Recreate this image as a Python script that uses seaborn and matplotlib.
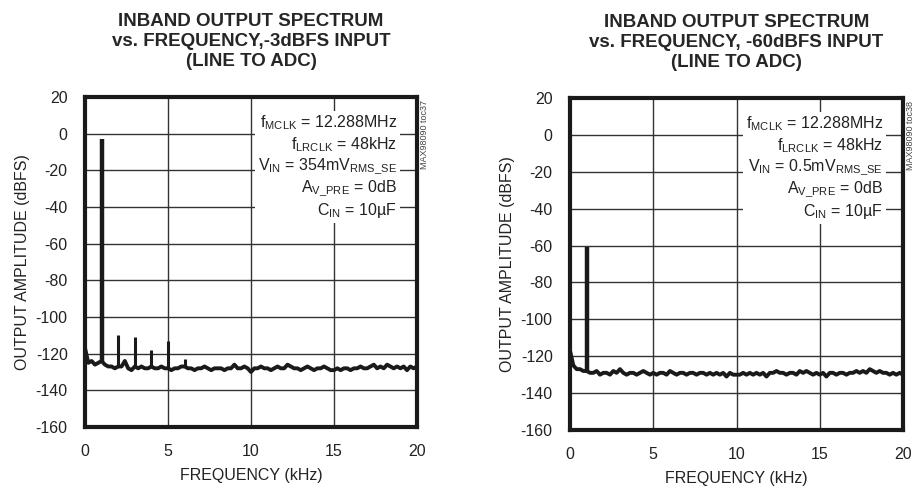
import numpy as np
import pandas as pd
import matplotlib
matplotlib.use("Agg")
import matplotlib.pyplot as plt
import seaborn as sns

# frequency grid of the noise floor (kHz), read every 0.2 kHz
freq = [round(0.2 * i, 1) for i in range(101)]

# -3dBFS input: noise floor (dBFS)
floor_a = [-117, -125, -124, -126, -125, -124, -126, -127, -127, -128,
           -127, -127, -124, -128, -129, -127, -128, -127, -128, -128,
           -127, -128, -128, -127, -128, -128, -129, -128, -128, -127,
           -127, -128, -128, -129, -128, -128, -127, -128, -129, -128,
           -128, -128, -129, -128, -128, -126, -128, -128, -127, -128,
           -130, -128, -128, -127, -128, -128, -129, -128, -127, -128,
           -128, -126, -127, -128, -128, -129, -128, -127, -128, -129,
           -128, -128, -127, -128, -129, -129, -128, -129, -128, -128,
           -129, -128, -128, -127, -128, -128, -127, -126, -128, -127,
           -128, -126, -127, -128, -127, -128, -127, -129, -127, -128,
           -127]
# -3dBFS input: fundamental and harmonics
spike_f_a = [1, 2, 3, 4, 5, 6]
spike_db_a = [-3, -110, -111, -118, -113, -123]

# -60dBFS input: noise floor (dBFS)
floor_b = [-117, -125, -127, -127, -128, -128, -129, -129, -128, -130,
           -129, -129, -130, -128, -129, -127, -129, -130, -129, -129,
           -130, -129, -128, -129, -130, -129, -130, -129, -129, -130,
           -128, -129, -130, -129, -129, -130, -129, -129, -130, -129,
           -129, -130, -129, -130, -129, -130, -129, -131, -129, -130,
           -130, -130, -129, -130, -129, -130, -129, -130, -129, -131,
           -129, -129, -128, -129, -129, -130, -129, -129, -130, -128,
           -129, -128, -129, -130, -129, -130, -129, -131, -129, -129,
           -130, -129, -129, -130, -129, -129, -128, -129, -128, -129,
           -127, -128, -129, -128, -129, -129, -130, -129, -130, -129,
           -130]
spike_f_b = [1]
spike_db_b = [-61]

titles = ["INBAND OUTPUT SPECTRUM\nvs. FREQUENCY,-3dBFS INPUT\n(LINE TO ADC)",
          "INBAND OUTPUT SPECTRUM\nvs. FREQUENCY, -60dBFS INPUT\n(LINE TO ADC)"]
vin = ["354m", "0.5m"]
tags = ["MAX98090 toc37", "MAX98090 toc38"]

sns.set_style("white")
plt.rcParams['font.family'] = ['Liberation Sans', 'DejaVu Sans']
plt.rcParams['mathtext.fontset'] = 'custom'
plt.rcParams['mathtext.rm'] = 'Liberation Sans'
plt.rcParams['mathtext.it'] = 'Liberation Sans'
plt.rcParams['axes.unicode_minus'] = False

fig = plt.figure(figsize=(9.16, 4.9), dpi=100)
ax_a = fig.add_axes([0.0928, 0.1286, 0.3624, 0.6735])
ax_b = fig.add_axes([0.6223, 0.1224, 0.3635, 0.6776])

panels = [(ax_a, floor_a, spike_f_a, spike_db_a),
          (ax_b, floor_b, spike_f_b, spike_db_b)]

for i, (ax, floor, sf, sdb) in enumerate(panels):
    df = pd.DataFrame({'freq': freq, 'db': floor})
    sns.lineplot(data=df, x='freq', y='db', ax=ax, color='#1a1a1a', lw=2.8)
    base = [floor[freq.index(float(f))] for f in sf]
    widths = [3.2] + [2.2] * (len(sf) - 1)
    ax.vlines(sf, base, sdb, colors='#1a1a1a', lw=widths)

    ax.set_xlim(0, 20)
    ax.set_ylim(-160, 20)
    ax.set_xticks([0, 5, 10, 15, 20])
    ax.set_yticks(range(-160, 21, 20))
    ax.grid(True, color='#333333', lw=1.0)
    ax.tick_params(axis='y', length=0, labelsize=11.5, colors='#222222', pad=12.5)
    ax.tick_params(axis='x', length=0, labelsize=11.5, colors='#222222', pad=12)
    for s in ax.spines.values():
        s.set_linewidth(3)
        s.set_color('#1a1a1a')
    ax.set_xlabel('FREQUENCY (kHz)', fontsize=11.5, color='#222222', labelpad=7)
    ax.set_ylabel('OUTPUT AMPLITUDE (dBFS)', fontsize=11.5, color='#222222', labelpad=4)
    ax.set_title(titles[i], fontsize=13.5, fontweight='bold', linespacing=1.25, pad=22)

    note = ('f$_{\\mathrm{MCLK}}$ = 12.288MHz\n'
            'f$_{\\mathrm{LRCLK}}$ = 48kHz\n'
            'V$_{\\mathrm{IN}}$ = ' + vin[i] + 'V$_{\\mathrm{RMS\\_SE}}$\n'
            'A$_{\\mathrm{V\\_PRE}}$ = 0dB\n'
            'C$_{\\mathrm{IN}}$ = 10µF')
    ax.text(18.8, 11, note, ha='right', va='top', fontsize=11.5, color='#222222',
            linespacing=1.2, multialignment='right',
            bbox=dict(facecolor='white', edgecolor='none', pad=2))
    ax.text(1.008, 0.99, tags[i], transform=ax.transAxes, rotation=90,
            ha='left', va='top', fontsize=6.5, color='#444444')
    ax.set_axisbelow(True)

fig.savefig('out.png', dpi=100)
